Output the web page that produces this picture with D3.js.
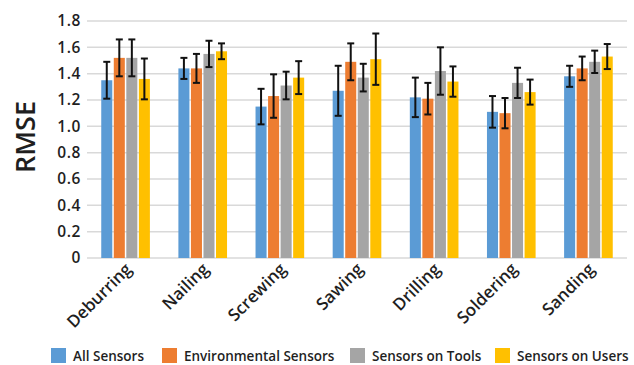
<!DOCTYPE html>
<html><head><meta charset="utf-8">
<script src="https://cdn.jsdelivr.net/npm/d3@7"></script>
<style>body{margin:0;background:#fff}svg{display:block}text{font-family:"Open Sans",sans-serif;font-weight:600;fill:#1f1f1f}</style>
</head><body>
<svg id="c" width="634" height="365"></svg>
<script>
const categories = ["Deburring","Nailing","Screwing","Sawing","Drilling","Soldering","Sanding"];
const seriesNames = ["All Sensors","Environmental Sensors","Sensors on Tools","Sensors on Users"];
const seriesColors = ["#5B9BD5","#ED7D31","#A5A5A5","#FFC000"];
const allSensors   = [1.35, 1.44, 1.15, 1.27, 1.22, 1.11, 1.38];
const allErr       = [0.14, 0.08, 0.135, 0.19, 0.15, 0.12, 0.08];
const envSensors   = [1.52, 1.44, 1.23, 1.49, 1.21, 1.10, 1.44];
const envErr       = [0.14, 0.11, 0.165, 0.14, 0.12, 0.115, 0.09];
const toolSensors  = [1.52, 1.55, 1.31, 1.37, 1.42, 1.33, 1.49];
const toolErr      = [0.14, 0.10, 0.105, 0.105, 0.18, 0.115, 0.085];
const userSensors  = [1.36, 1.57, 1.37, 1.51, 1.34, 1.26, 1.53];
const userErr      = [0.155, 0.06, 0.125, 0.195, 0.115, 0.095, 0.095];
const yTicks = [0, 0.2, 0.4, 0.6, 0.8, 1.0, 1.2, 1.4, 1.6, 1.8];

const values = [allSensors, envSensors, toolSensors, userSensors];
const errors = [allErr, envErr, toolErr, userErr];

const svg = d3.select("#c");
const mLeft = 87, mRight = 627, mTop = 21, mBottom = 258;
const x0 = d3.scaleBand().domain(categories).range([mLeft, mRight]).paddingInner(0.35).paddingOuter(0.175);
const x1 = d3.scaleBand().domain(seriesNames).range([0, x0.bandwidth()]);
const y = d3.scaleLinear().domain([0, 1.8]).range([mBottom, mTop]);

// gridlines
svg.append("g").selectAll("line").data(yTicks).join("line")
  .attr("x1", mLeft).attr("x2", mRight)
  .attr("y1", d => y(d)).attr("y2", d => y(d))
  .attr("stroke", "#d9d9d9").attr("stroke-width", 1.5);

// y axis labels
const yAxis = d3.axisLeft(y).tickValues(yTicks).tickFormat(d => d === 0 ? "0" : d3.format(".1f")(d)).tickSize(0).tickPadding(6);
const ya = svg.append("g").attr("transform", `translate(${mLeft},0)`).call(yAxis);
ya.select(".domain").remove();
ya.selectAll("text").attr("font-size", 15.5).attr("font-family", "Open Sans").attr("font-weight", 600)
  .attr("letter-spacing", 0.6).attr("fill", "#1f1f1f");

// bars
const data = [];
categories.forEach((c, i) => seriesNames.forEach((s, j) => data.push({c, s, j, v: values[j][i], e: errors[j][i]})));
svg.append("g").selectAll("rect").data(data).join("rect")
  .attr("x", d => x0(d.c) + x1(d.s) + 0.75)
  .attr("width", x1.bandwidth() - 1.5)
  .attr("y", d => y(d.v))
  .attr("height", d => y(0) - y(d.v))
  .attr("fill", d => seriesColors[d.j]);

// error bars
const eg = svg.append("g").attr("stroke", "#111").attr("stroke-width", 2);
data.forEach(d => {
  const cx = x0(d.c) + x1(d.s) + x1.bandwidth() / 2;
  eg.append("line").attr("x1", cx).attr("x2", cx).attr("y1", y(d.v + d.e)).attr("y2", y(d.v - d.e));
  eg.append("line").attr("x1", cx - 3.5).attr("x2", cx + 3.5).attr("y1", y(d.v + d.e)).attr("y2", y(d.v + d.e));
  eg.append("line").attr("x1", cx - 3.5).attr("x2", cx + 3.5).attr("y1", y(d.v - d.e)).attr("y2", y(d.v - d.e));
});

// x labels
svg.append("g").selectAll("text").data(categories).join("text")
  .attr("transform", d => `translate(${x0(d) + x0.bandwidth() / 2 + 3},${266}) rotate(-45)`)
  .attr("text-anchor", "end").attr("dy", "0.35em")
  .attr("font-size", 17).text(d => d);

// y title
svg.append("text").attr("transform", "translate(35,137) rotate(-90)")
  .attr("text-anchor", "middle").attr("font-size", 27).text("RMSE");

// legend
const legX = [51, 162, 350, 495];
const lg = svg.append("g");
seriesNames.forEach((s, j) => {
  lg.append("rect").attr("x", legX[j]).attr("y", 348).attr("width", 15).attr("height", 15).attr("fill", seriesColors[j]);
  lg.append("text").attr("x", legX[j] + 22).attr("y", 361).attr("font-size", 13.5).text(s);
});
</script>
</body></html>
